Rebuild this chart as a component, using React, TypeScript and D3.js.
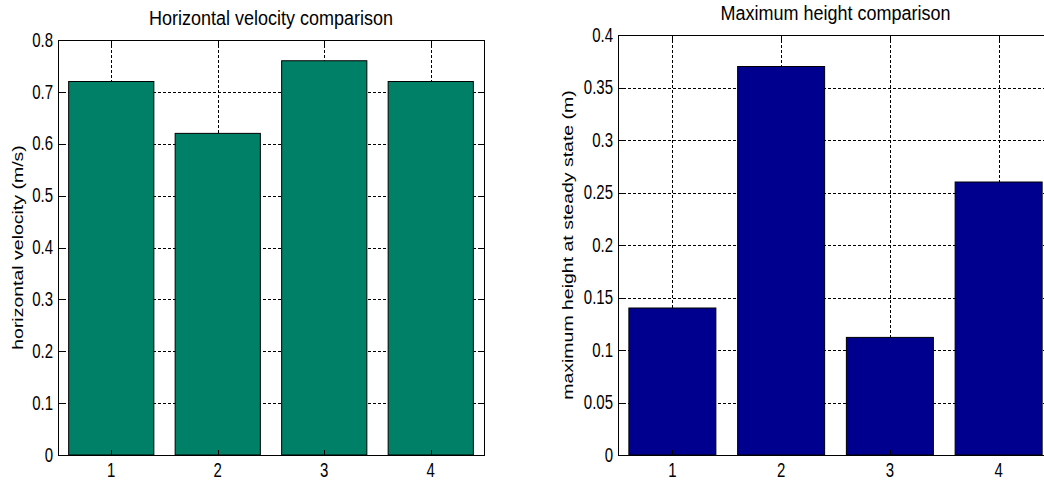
import React, { useEffect, useRef } from "react";
import * as d3 from "d3";

const categories = [1, 2, 3, 4];
const velocity = [0.72, 0.62, 0.76, 0.72];
const maxHeight = [0.14, 0.37, 0.112, 0.26];
const velocityTicks = [0, 0.1, 0.2, 0.3, 0.4, 0.5, 0.6, 0.7, 0.8];
const heightTicks = [0, 0.05, 0.1, 0.15, 0.2, 0.25, 0.3, 0.35, 0.4];

const FONT = "'Liberation Sans', Arial, sans-serif";
const STRETCH = 1.3; // text in the picture looks taller than wide

type Panel = {
  values: number[];
  ticks: number[];
  color: string;
  title: string;
  ylabel: string;
  left: number;
  right: number;
  top: number;
  bottom: number;
  titleY: number;
  ylabelX: number;
};

const fmt = (v: number) => String(+v.toFixed(3));

const drawPanel = (svg: d3.Selection<SVGSVGElement, unknown, null, undefined>, p: Panel) => {
  const g = svg.append("g");
  const x = d3.scaleLinear().domain([0.5, 4.5]).range([p.left, p.right]);
  const y = d3
    .scaleLinear()
    .domain([0, p.ticks[p.ticks.length - 1]])
    .range([p.bottom, p.top]);

  // background
  g.append("rect")
    .attr("x", p.left)
    .attr("y", p.top)
    .attr("width", p.right - p.left)
    .attr("height", p.bottom - p.top)
    .attr("fill", "#fff");

  // grid (under the bars)
  const grid = g
    .append("g")
    .attr("stroke", "#000")
    .attr("stroke-width", 1)
    .attr("stroke-dasharray", "3,2");
  grid
    .selectAll("line.h")
    .data(p.ticks.slice(1, -1))
    .join("line")
    .attr("x1", p.left)
    .attr("x2", p.right)
    .attr("y1", (d) => Math.round(y(d)) + 0.5)
    .attr("y2", (d) => Math.round(y(d)) + 0.5);
  grid
    .selectAll("line.v")
    .data(categories)
    .join("line")
    .attr("y1", p.top)
    .attr("y2", p.bottom)
    .attr("x1", (d) => Math.round(x(d)) + 0.5)
    .attr("x2", (d) => Math.round(x(d)) + 0.5);

  // bars
  const bw = x(1.4) - x(0.6);
  g.append("g")
    .selectAll("rect")
    .data(p.values)
    .join("rect")
    .attr("x", (d, i) => x(categories[i] - 0.4))
    .attr("y", (d) => y(d))
    .attr("width", bw)
    .attr("height", (d) => y(0) - y(d))
    .attr("fill", p.color)
    .attr("stroke", "#000")
    .attr("stroke-width", 1);

  // ticks inside on all sides
  const tk = g.append("g").attr("stroke", "#000").attr("stroke-width", 1);
  p.ticks.forEach((t) => {
    const yy = Math.round(y(t)) + 0.5;
    tk.append("line").attr("x1", p.left).attr("x2", p.left + 5).attr("y1", yy).attr("y2", yy);
    tk.append("line").attr("x1", p.right - 5).attr("x2", p.right).attr("y1", yy).attr("y2", yy);
  });
  categories.forEach((c) => {
    const xx = Math.round(x(c)) + 0.5;
    tk.append("line").attr("x1", xx).attr("x2", xx).attr("y1", p.bottom - 5).attr("y2", p.bottom);
    tk.append("line").attr("x1", xx).attr("x2", xx).attr("y1", p.top).attr("y2", p.top + 5);
  });

  // box
  g.append("rect")
    .attr("x", p.left + 0.5)
    .attr("y", p.top + 0.5)
    .attr("width", p.right - p.left)
    .attr("height", p.bottom - p.top)
    .attr("fill", "none")
    .attr("stroke", "#000")
    .attr("stroke-width", 1);

  // y tick labels
  p.ticks.forEach((t) => {
    g.append("text")
      .attr("transform", `translate(${p.left - 5},${y(t)}) scale(1,${STRETCH})`)
      .attr("text-anchor", "end")
      .attr("dominant-baseline", "central")
      .attr("font-family", FONT)
      .attr("font-size", 15)
      .attr("fill", "#000")
      .text(fmt(t));
  });

  // x tick labels
  categories.forEach((c) => {
    g.append("text")
      .attr("transform", `translate(${x(c)},${p.bottom + 15}) scale(1,${STRETCH})`)
      .attr("text-anchor", "middle")
      .attr("dominant-baseline", "central")
      .attr("font-family", FONT)
      .attr("font-size", 15)
      .attr("fill", "#000")
      .text(String(c));
  });

  // title
  g.append("text")
    .attr("transform", `translate(${(p.left + p.right) / 2},${p.titleY}) scale(1,1.1)`)
    .attr("text-anchor", "middle")
    .attr("font-family", FONT)
    .attr("font-size", 18)
    .attr("fill", "#000")
    .text(p.title);

  // y label
  g.append("text")
    .attr(
      "transform",
      `translate(${p.ylabelX},${(p.top + p.bottom) / 2}) rotate(-90) scale(${STRETCH},1)`
    )
    .attr("text-anchor", "middle")
    .attr("font-family", FONT)
    .attr("font-size", 15)
    .attr("fill", "#000")
    .text(p.ylabel);
};

const BarPanels = () => {
  const svgRef = useRef<SVGSVGElement | null>(null);

  useEffect(() => {
    const svg = d3.select(svgRef.current!);
    svg.selectAll("*").remove();

    svg.append("rect").attr("width", 1044).attr("height", 480).attr("fill", "#fff");

    drawPanel(svg, {
      values: velocity,
      ticks: velocityTicks,
      color: "#008066",
      title: "Horizontal velocity comparison",
      ylabel: "horizontal velocity (m/s)",
      left: 58,
      right: 484,
      top: 40,
      bottom: 455,
      titleY: 25,
      ylabelX: 23,
    });

    drawPanel(svg, {
      values: maxHeight,
      ticks: heightTicks,
      color: "#00008f",
      title: "Maximum height comparison",
      ylabel: "maximum height at steady state (m)",
      left: 618,
      right: 1053,
      top: 35,
      bottom: 455,
      titleY: 20,
      ylabelX: 573,
    });
  }, []);

  return <svg ref={svgRef} width={1044} height={480} style={{ display: "block" }} />;
};

export default function App() {
  return (
    <div style={{ position: "absolute", left: 0, top: 0, width: 1044, height: 480, overflow: "hidden" }}>
      <BarPanels />
    </div>
  );
}
